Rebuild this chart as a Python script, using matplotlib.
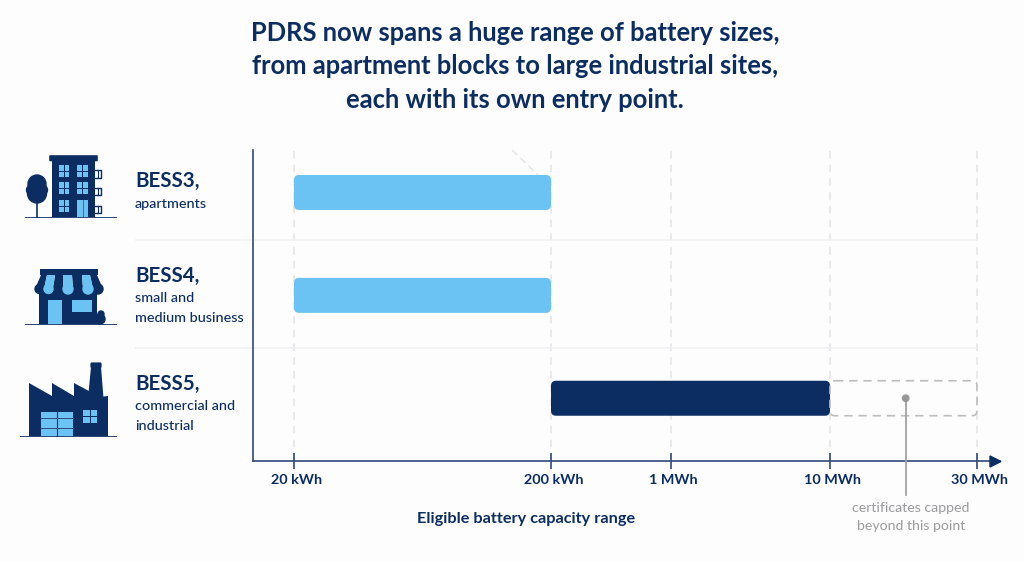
import matplotlib
matplotlib.use('Agg')
import matplotlib.pyplot as plt
import numpy as np
from matplotlib.patches import Circle, FancyBboxPatch, Polygon, Rectangle
from matplotlib.transforms import ScaledTranslation

NAVY = '#0B2D62'
LIGHT = '#6AC3F3'
AXIS = '#2F4A7C'
GRID = '#E4E4E6'
RULE = '#F1F1F3'
GREY = '#9C9C9F'
BG = '#FDFDFD'

title_lines = ['PDRS now spans a huge range of battery sizes,',
               'from apartment blocks to large industrial sites,',
               'each with its own entry point.']
row_names = ['BESS3,', 'BESS4,', 'BESS5,']
row_notes = [['apartments'], ['small and', 'medium business'], ['commercial and', 'industrial']]
bar_start = [20, 20, 200]
bar_end = [200, 200, 10000]
bar_colors = [LIGHT, LIGHT, NAVY]
capped_start = 10000
capped_end = 30000
cap_note_at = 20300
tick_kwh = [20, 200, 1000, 10000, 30000]
tick_labels = ['20 kWh', '200 kWh', '1 MWh', '10 MWh', '30 MWh']

# the capacity axis is hand spaced, so map kWh to pixels piecewise
scale_kwh = [0, 20, 200, 1000, 10000, 30000, 40000]
scale_pos = [253, 294, 551, 671, 830, 977, 1000]


def forward(v):
    return np.interp(v, scale_kwh, scale_pos)


def inverse(v):
    return np.interp(v, scale_pos, scale_kwh)


plt.rcParams['font.family'] = ['Lato', 'DejaVu Sans']
fig = plt.figure(figsize=(10.24, 5.62), dpi=100, facecolor=BG)

ax = fig.add_axes([253 / 1024, 1 - 461 / 562, (1000 - 253) / 1024, (461 - 150) / 562], zorder=1)
ax.patch.set_alpha(0)
ax.set_xscale('function', functions=(forward, inverse))
ax.set_xlim(0, 40000)
ax.set_ylim(2.61, -0.413)
ax.set_yticks([])
ax.set_xticks(tick_kwh)
ax.set_xticklabels(tick_labels, fontsize=10.4, fontweight='bold', color=NAVY)
ax.minorticks_off()
ax.tick_params(axis='x', direction='inout', length=11, width=1.2, color=AXIS, pad=4)
shift = ScaledTranslation(2 / 72, 0, fig.dpi_scale_trans)
for label in ax.get_xticklabels():
    label.set_transform(label.get_transform() + shift)
ax.grid(axis='x', color=GRID, linestyle=(0, (5, 4)), linewidth=1.1)
ax.set_axisbelow(True)
for side in ['top', 'right']:
    ax.spines[side].set_visible(False)
for side in ['left', 'bottom']:
    ax.spines[side].set_color(AXIS)
    ax.spines[side].set_linewidth(1.2)

# overlay in pixel coordinates for bars, text and icons, above the grid
bg = fig.add_axes([0, 0, 1, 1], zorder=2)
bg.patch.set_alpha(0)
bg.set_xlim(0, 1024)
bg.set_ylim(562, 0)
bg.axis('off')


def to_px(x, y):
    px, py = ax.transData.transform((x, y))
    return px, 562 - py


def rounded_bar(x0, x1, row, height=0.34, **kw):
    left, top = to_px(x0, row - height / 2)
    right, bottom = to_px(x1, row + height / 2)
    r = 5
    bg.add_patch(FancyBboxPatch((left + r, top + r), right - left - 2 * r, bottom - top - 2 * r,
                                boxstyle=f'round,pad={r},rounding_size={r}', **kw))


for i in range(3):
    rounded_bar(bar_start[i], bar_end[i], i, facecolor=bar_colors[i], edgecolor='none', zorder=3)
rounded_bar(capped_start, capped_end, 2, facecolor='none', edgecolor='#BDBDC0',
            linewidth=1.2, linestyle=(0, (5, 3.5)), zorder=3)

# row separators stop either side of the y axis line
for y in [239.5, 347.5]:
    bg.plot([135, 252], [y, y], color=RULE, lw=1.1, zorder=1, solid_capstyle='butt')
    bg.plot([254, 977], [y, y], color=RULE, lw=1.1, zorder=1, solid_capstyle='butt')
# faint diagonal stroke above the first bar
bg.plot([512, 539], [150, 176], color='#E4E4E6', lw=0.9, linestyle=(0, (6, 3)), zorder=1)

# axis arrow
bg.add_patch(Polygon([[990, 456], [1001, 461.5], [990, 467]], closed=True, color=NAVY, zorder=4))

# callout
cx, cy = to_px(cap_note_at, 2)
bg.plot([cx, cx], [cy, 495], color='#A3A3A6', lw=1.3, zorder=4)
bg.add_patch(Circle((cx, cy), 3.2, color='#979799', zorder=5))
bg.text(911, 508, 'certificates capped', ha='center', va='center', fontsize=10.2, color=GREY)
bg.text(911, 526, 'beyond this point', ha='center', va='center', fontsize=10.2, color=GREY)
bg.text(526, 519, 'Eligible battery capacity range', ha='center', va='center',
        fontsize=11.7, fontweight='bold', color=NAVY)

for line, y in zip(title_lines, [33, 66, 100]):
    bg.text(515, y, line, ha='center', va='center', fontsize=18.4, fontweight='bold', color=NAVY)

name_y = [181, 276, 384]
note_y = [[204], [298, 318], [406, 426]]
for i in range(3):
    bg.text(135, name_y[i], row_names[i], ha='left', va='center', fontsize=14.8,
            fontweight='bold', color=NAVY)
    for note, y in zip(row_notes[i], note_y[i]):
        bg.text(135, y, note, ha='left', va='center', fontsize=10.4, fontweight='medium', color=NAVY)


def box(x0, y0, x1, y1, color=NAVY, z=3):
    bg.add_patch(Rectangle((x0, y0), x1 - x0, y1 - y0, facecolor=color, edgecolor='none', zorder=z))


def window(x0, y0, x1, y1, z=4):
    xm, ym = (x0 + x1) / 2, (y0 + y1) / 2
    for a, b in [(x0, xm - 0.5), (xm + 0.5, x1)]:
        for c, d in [(y0, ym - 0.5), (ym + 0.5, y1)]:
            box(a, c, b, d, LIGHT, z)


# apartment block
box(25, 216.5, 117, 218, AXIS)
box(52, 161, 95, 217)
bg.add_patch(FancyBboxPatch((50, 156), 47, 4.5, boxstyle='round,pad=0.8,rounding_size=1',
                            facecolor=NAVY, edgecolor='none', zorder=3))
for y0, y1 in [(165, 177), (182, 194)]:
    window(59, y0, 69, y1)
    window(77, y0, 88, y1)
window(59, 200, 69, 212)
box(77, 200, 88, 217, LIGHT, 4)
bg.plot([82.5, 82.5], [200, 217], color=AXIS, lw=0.5, zorder=5)
for y0, y1 in [(170, 178), (188, 195), (206, 213)]:
    bg.plot([95, 101, 101, 95], [y0, y0, y1, y1], color=NAVY, lw=1, zorder=3)
    bg.plot([98, 98], [y0, y1], color=NAVY, lw=0.8, zorder=3)
bg.plot([37, 37], [190, 217], color=NAVY, lw=1.2, zorder=3)
for center, rad in [((37, 184), 9), ((37, 193.5), 9.5), ((31.5, 190), 5), ((42.5, 190), 5)]:
    bg.add_patch(Circle(center, rad, color=NAVY, zorder=3))

# shop
box(25, 323.5, 117, 325, AXIS)
box(38.5, 290, 97, 324)
bg.add_patch(Circle((100, 319), 5, color=NAVY, zorder=3))
bg.add_patch(Circle((101, 314), 3, color=NAVY, zorder=3))
box(39.5, 269, 98, 275)
box(48, 300, 62, 323.5, LIGHT, 4)
box(72, 300, 92, 312, LIGHT, 4)
edges_top = [41, 47, 55, 63, 72, 82, 90, 97]
edges_bot = [35, 44, 53, 63, 73, 83, 93, 103]
# navy stripes first so the light scallops stay whole
for j in list(range(0, 7, 2)) + list(range(1, 7, 2)):
    color = LIGHT if j % 2 == 1 else NAVY
    bg.add_patch(Polygon([[edges_top[j], 275], [edges_top[j + 1], 275],
                          [edges_bot[j + 1], 289], [edges_bot[j], 289]],
                         closed=True, facecolor=color, edgecolor='none', zorder=4))
    bg.add_patch(Circle(((edges_bot[j] + edges_bot[j + 1]) / 2, 289),
                        (edges_bot[j + 1] - edges_bot[j]) / 2, color=color, zorder=4))

# factory
box(20, 435.5, 117, 437, AXIS)
bg.add_patch(Polygon([[29, 436], [29, 383], [52, 396], [52, 383], [74, 396], [74, 383],
                      [100, 397], [108, 396], [108, 436]], closed=True,
                     facecolor=NAVY, edgecolor='none', zorder=3))
bg.add_patch(Polygon([[91, 367], [101, 367], [103.5, 398], [88, 398]], closed=True,
                     facecolor=NAVY, edgecolor='none', zorder=3))
bg.add_patch(FancyBboxPatch((91, 363), 10, 4.5, boxstyle='round,pad=0.6,rounding_size=1.5',
                            facecolor=NAVY, edgecolor='none', zorder=3))
box(41, 411.5, 72.5, 436, LIGHT, 4)
bg.plot([56.7, 56.7], [411.5, 436], color=NAVY, lw=0.8, zorder=5)
for y in [418, 428]:
    bg.plot([41, 72.5], [y, y], color=AXIS, lw=0.7, zorder=5)
window(83, 410, 97, 423)

fig.savefig('out.png', dpi=100, facecolor=BG)
